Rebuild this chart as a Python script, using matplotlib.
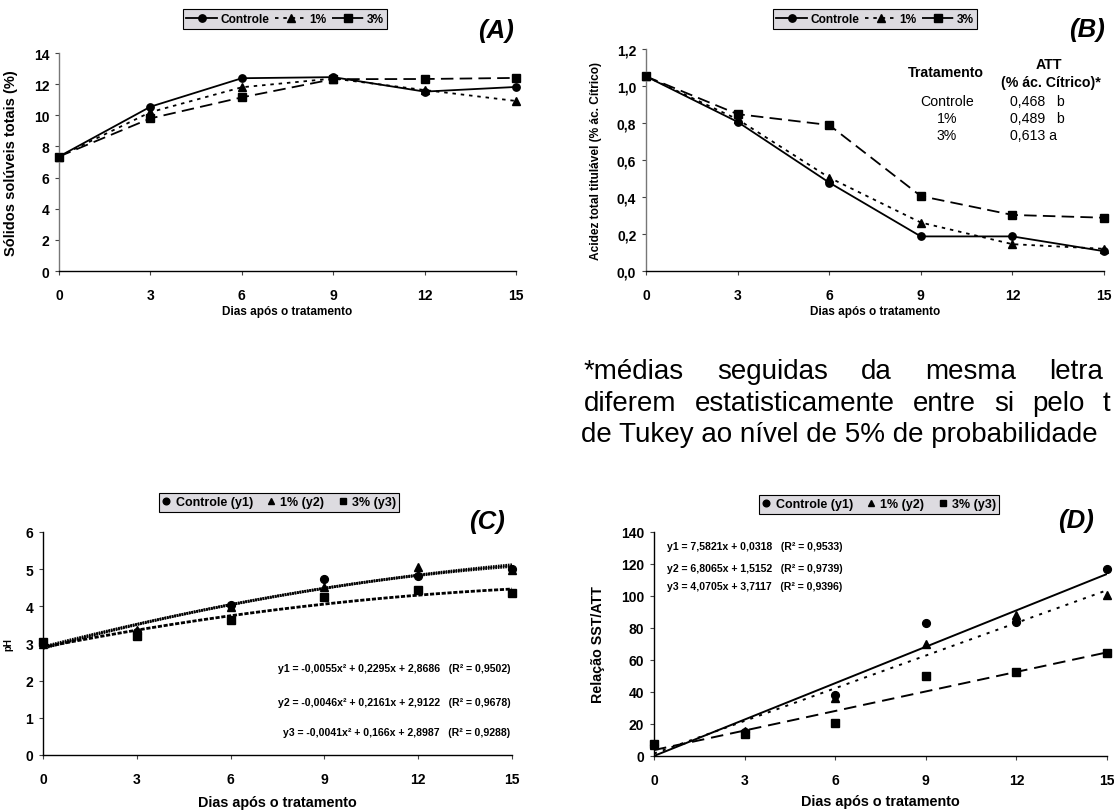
import matplotlib
matplotlib.use("Agg")
import matplotlib.pyplot as plt
import numpy as np
from matplotlib.lines import Line2D

plt.rcParams['font.family'] = ['Liberation Sans', 'DejaVu Sans']
plt.rcParams['lines.scale_dashes'] = False

# ---------------- data ----------------
days = [0, 3, 6, 9, 12, 15]
series_names = ['Controle', '1%', '3%']

sst_controle = [7.35, 10.55, 12.38, 12.45, 11.52, 11.82]
sst_1 = [7.35, 10.2, 11.8, 12.36, 11.62, 10.92]
sst_3 = [7.35, 9.8, 11.15, 12.32, 12.33, 12.4]

att_controle = [1.052, 0.806, 0.478, 0.187, 0.187, 0.107]
att_1 = [1.052, 0.82, 0.505, 0.262, 0.145, 0.12]
att_3 = [1.052, 0.848, 0.789, 0.405, 0.303, 0.288]

ph_controle = [3.02, 3.3, 4.03, 4.74, 4.81, 5.01]
ph_1 = [3.0, 3.36, 3.98, 4.52, 5.06, 4.97]
ph_3 = [3.03, 3.2, 3.63, 4.25, 4.43, 4.36]
ph_fit_y1 = [-0.0055, 0.2295, 2.8686]
ph_fit_y2 = [-0.0046, 0.2161, 2.9122]
ph_fit_y3 = [-0.0041, 0.166, 2.8987]
ph_eqs = ['y1 = -0,0055x² + 0,2295x + 2,8686   (R² = 0,9502)',
          'y2 = -0,0046x² + 0,2161x + 2,9122   (R² = 0,9678)',
          'y3 = -0,0041x² + 0,166x + 2,8987   (R² = 0,9288)']

rel_controle = [7.0, 15.0, 38.0, 83.0, 84.0, 117.0]
rel_1 = [7.0, 15.8, 36.2, 69.8, 88.0, 100.5]
rel_3 = [7.4, 14.0, 20.5, 50.0, 52.5, 64.5]
rel_fit_y1 = [7.5821, 0.0318]
rel_fit_y2 = [6.8065, 1.5152]
rel_fit_y3 = [4.0705, 3.7117]
rel_eqs = ['y1 = 7,5821x + 0,0318   (R² = 0,9533)',
           'y2 = 6,8065x + 1,5152   (R² = 0,9739)',
           'y3 = 4,0705x + 3,7117   (R² = 0,9396)']

table_trat = ['Controle', '1%', '3%']
table_att = ['0,468   b', '0,489   b', '0,613 a']

footnote_line1 = ['*médias', 'seguidas', 'da', 'mesma', 'letra']
footnote_line2 = ['diferem', 'estatisticamente', 'entre', 'si', 'pelo', 't']
footnote_line3 = 'de Tukey ao nível de 5% de probabilidade'

W, H = 1114, 812
fig = plt.figure(figsize=(W / 100, H / 100), dpi=100)

def px_axes(x0, y0, x1, y1):
    return fig.add_axes([x0 / W, 1 - y1 / H, (x1 - x0) / W, (y1 - y0) / H])

markers = ['o', '^', 's']
styles_ab = ['-', (0, (2.5, 3.5)), (0, (9, 4.5))]
LW = 1.3
MS = 5.3

def style_axes(ax, ymax, ystep, yfmt, left_color):
    ax.set_xlim(0, 15)
    ax.set_ylim(0, ymax)
    ax.set_xticks(days)
    ax.set_yticks(np.arange(0, ymax + ystep / 2, ystep))
    ax.set_yticklabels([yfmt(v) for v in np.arange(0, ymax + ystep / 2, ystep)])
    for s in ['top', 'right']:
        ax.spines[s].set_visible(False)
    ax.spines['left'].set_color(left_color)
    ax.spines['bottom'].set_color('black')
    ax.spines['left'].set_linewidth(1.0)
    ax.spines['bottom'].set_linewidth(1.0)
    ax.tick_params(axis='x', length=3, width=0.8, pad=9, labelsize=10, color='#444444')
    ax.tick_params(axis='y', length=3, width=0.8, pad=4, labelsize=10, color='#444444')
    for lab in ax.get_xticklabels() + ax.get_yticklabels():
        lab.set_fontweight('bold')

def style_legend(leg):
    fr = leg.get_frame()
    fr.set_facecolor('#dddbe0')
    fr.set_edgecolor('black')
    fr.set_linewidth(0.8)
    fr.set_alpha(1)

def legend_lines(cx, cy):
    handles = [Line2D([], [], color='black', lw=LW, ls=styles_ab[i], marker=markers[i], ms=MS)
               for i in range(3)]
    leg = fig.legend(handles, series_names, loc='center', bbox_to_anchor=(cx / W, 1 - cy / H),
                     ncol=3, frameon=True, fancybox=False, handlelength=2.6, handletextpad=0.25,
                     columnspacing=0.5, borderpad=0.3, borderaxespad=0,
                     prop={'weight': 'bold', 'size': 8.6})
    style_legend(leg)

def legend_markers(cx, cy, labels):
    handles = [Line2D([], [], color='black', lw=0, marker=markers[i], ms=4.8) for i in range(3)]
    leg = fig.legend(handles, labels, loc='center', bbox_to_anchor=(cx / W, 1 - cy / H),
                     ncol=3, frameon=True, fancybox=False, handlelength=0.7, handletextpad=0.4,
                     columnspacing=1.1, borderpad=0.25, borderaxespad=0,
                     prop={'weight': 'bold', 'size': 9})
    style_legend(leg)

comma1 = lambda v: ('%.1f' % v).replace('.', ',')
intf = lambda v: '%d' % round(v)

# ---------------- (A) ----------------
axA = px_axes(59, 54, 516, 272)
for i, ys in enumerate([sst_controle, sst_1, sst_3]):
    axA.plot(days, ys, color='black', lw=LW, ls=styles_ab[i], marker=markers[i], ms=MS,
             clip_on=False, zorder=3 - i)
style_axes(axA, 14, 2, intf, '#777777')
axA.set_ylabel('Sólidos solúveis totais (%)', fontsize=10.5, fontweight='bold')
axA.yaxis.set_label_coords(-0.09, 0.5)
axA.set_xlabel('Dias após o tratamento', fontsize=8.5, fontweight='bold', va='center')
axA.xaxis.set_label_coords(0.5, -0.183)
legend_lines(285, 20)
fig.text(514 / W, 1 - 31 / H, '(A)', ha='right', va='center', fontsize=18.5,
         fontweight='bold', style='italic')

# ---------------- (B) ----------------
axB = px_axes(646, 50, 1104, 272)
for i, ys in enumerate([att_controle, att_1, att_3]):
    axB.plot(days, ys, color='black', lw=LW, ls=styles_ab[i], marker=markers[i], ms=MS,
             clip_on=False, zorder=3 - i)
style_axes(axB, 1.2, 0.2, comma1, '#777777')
axB.set_ylabel('Acidez total titulável (% ác. Cítrico)', fontsize=8.6, fontweight='bold')
axB.yaxis.set_label_coords(-0.096, 0.5)
axB.set_xlabel('Dias após o tratamento', fontsize=8.5, fontweight='bold', va='center')
axB.xaxis.set_label_coords(0.5, -0.18)
legend_lines(875, 20)
fig.text(1105 / W, 1 - 30 / H, '(B)', ha='right', va='center', fontsize=18.5,
         fontweight='bold', style='italic')
fig.text(946 / W, 1 - 73 / H, 'Tratamento', ha='center', va='center', fontsize=10.2, fontweight='bold')
fig.text(1049 / W, 1 - 65 / H, 'ATT', ha='center', va='center', fontsize=10.2, fontweight='bold')
fig.text(1051 / W, 1 - 83 / H, '(% ác. Cítrico)*', ha='center', va='center', fontsize=10.2,
         fontweight='bold')
for k, (t, v) in enumerate(zip(table_trat, table_att)):
    yy = 101.5 + 17.2 * k
    fig.text(947 / W, 1 - yy / H, t, ha='center', va='center', fontsize=10.2)
    fig.text(1010 / W, 1 - yy / H, v, ha='left', va='center', fontsize=10.2)

# ---------------- footnote (justified lines) ----------------
fn_size = 20
renderer = fig.canvas.get_renderer()

def justified(words, x0, x_last, base):
    objs = [fig.text(0, 1 - base / H, w, ha='left', va='baseline', fontsize=fn_size) for w in words]
    widths = [o.get_window_extent(renderer).width for o in objs]
    gap = (x_last - x0 - sum(widths[:-1])) / (len(words) - 1)
    x = x0
    for o, wd in zip(objs, widths):
        o.set_x(x / W)
        x += wd + gap

justified(footnote_line1, 584, 1049, 379)
justified(footnote_line2, 584, 1103, 411)
fig.text(581 / W, 1 - 442 / H, footnote_line3, ha='left', va='baseline', fontsize=fn_size)

# ---------------- (C) ----------------
axC = px_axes(43, 533, 512, 756)
xx = np.linspace(0, 15, 200)
fitC = [ph_fit_y1, ph_fit_y2, ph_fit_y3]
fit_styles_c = [(0, (1.2, 0.6)), (0, (1.2, 0.6)), (0, (3, 1.2))]
for i, c in enumerate(fitC):
    axC.plot(xx, np.polyval(c, xx), color='black', lw=2.0, ls=fit_styles_c[i], zorder=2)
for i, ys in enumerate([ph_controle, ph_1, ph_3]):
    axC.plot(days, ys, color='black', lw=0, marker=markers[i], ms=MS + 0.3, clip_on=False, zorder=3)
style_axes(axC, 6, 1, intf, 'black')
axC.set_ylabel('pH', fontsize=7, fontweight='bold')
axC.yaxis.set_label_coords(-0.064, 0.5)
axC.set_xlabel('Dias após o tratamento', fontsize=10.4, fontweight='bold', va='center')
axC.xaxis.set_label_coords(0.5, -0.21)
for k, eq in enumerate(ph_eqs):
    axC.text(14.95, [2.33, 1.43, 0.63][k], eq, ha='right', va='center', fontsize=7.6,
             fontweight='bold')
legend_markers(279, 503.5, ['Controle (y1)', '1% (y2)', '3% (y3)'])
fig.text(505 / W, 1 - 522 / H, '(C)', ha='right', va='center', fontsize=18.5,
         fontweight='bold', style='italic')

# ---------------- (D) ----------------
axD = px_axes(654, 533, 1107, 757)
fitD = [rel_fit_y1, rel_fit_y2, rel_fit_y3]
fit_styles_d = ['-', (0, (2.2, 4.5)), (0, (9, 5))]
for i, c in enumerate(fitD):
    axD.plot(xx, np.polyval(c, xx), color='black', lw=1.4, ls=fit_styles_d[i], zorder=2)
for i, ys in enumerate([rel_controle, rel_1, rel_3]):
    axD.plot(days, ys, color='black', lw=0, marker=markers[i], ms=MS + 0.3, clip_on=False, zorder=3)
style_axes(axD, 140, 20, intf, 'black')
axD.set_ylabel('Relação SST/ATT', fontsize=10.3, fontweight='bold')
axD.yaxis.set_label_coords(-0.108, 0.5)
axD.set_xlabel('Dias após o tratamento', fontsize=10.4, fontweight='bold', va='center')
axD.xaxis.set_label_coords(0.5, -0.20)
for k, eq in enumerate(rel_eqs):
    axD.text(0.42, [131.4, 117.5, 106.4][k], eq, ha='left', va='center', fontsize=7.6,
             fontweight='bold')
legend_markers(879, 505.5, ['Controle (y1)', '1% (y2)', '3% (y3)'])
fig.text(1094 / W, 1 - 521 / H, '(D)', ha='right', va='center', fontsize=18.5,
         fontweight='bold', style='italic')

fig.savefig('out.png', dpi=100)
